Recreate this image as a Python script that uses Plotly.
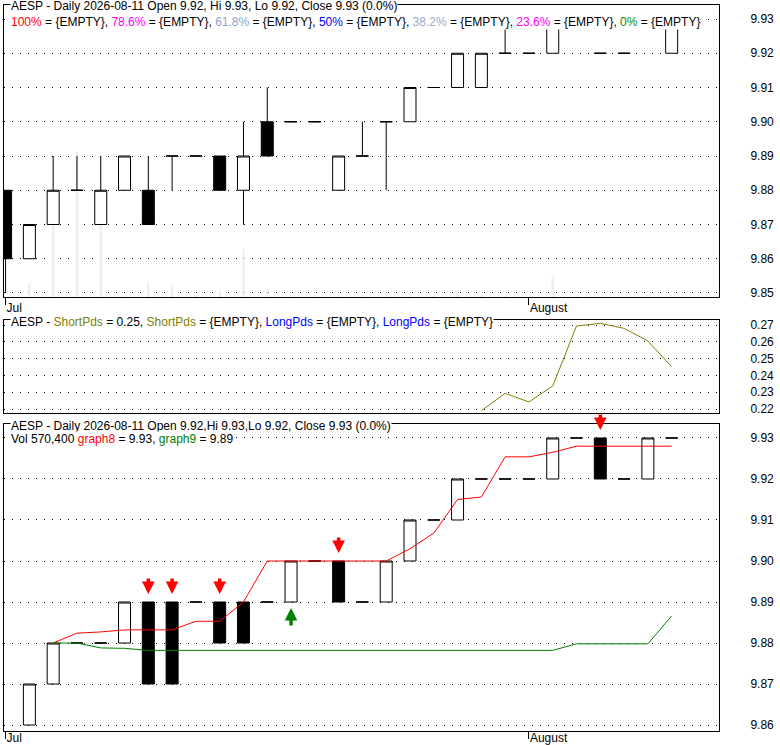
import plotly.graph_objects as go

# trading days shown on the chart
dates = ["2026-07-01", "2026-07-02", "2026-07-06", "2026-07-07", "2026-07-08",
         "2026-07-09", "2026-07-10", "2026-07-13", "2026-07-14", "2026-07-15",
         "2026-07-16", "2026-07-17", "2026-07-20", "2026-07-21", "2026-07-22",
         "2026-07-23", "2026-07-24", "2026-07-27", "2026-07-28", "2026-07-29",
         "2026-07-30", "2026-07-31", "2026-08-03", "2026-08-04", "2026-08-05",
         "2026-08-06", "2026-08-07", "2026-08-10", "2026-08-11"]
month_ticks = ["2026-07-01", "2026-08-03"]
month_labels = ["Jul", "August"]

# top panel: price candles + volume
top_open = [9.88, 9.86, 9.87, 9.88, 9.87, 9.88, 9.88, 9.89, 9.89, 9.89,
            9.88, 9.90, 9.90, 9.90, 9.88, 9.89, 9.90, 9.90, 9.91, 9.91,
            9.91, 9.92, 9.92, 9.92, 9.93, 9.92, 9.92, 9.93, 9.92]
top_high = [9.88, 9.87, 9.89, 9.89, 9.89, 9.89, 9.89, 9.89, 9.89, 9.89,
            9.90, 9.91, 9.90, 9.90, 9.89, 9.90, 9.90, 9.91, 9.91, 9.92,
            9.92, 9.93, 9.92, 9.93, 9.93, 9.92, 9.92, 9.93, 9.93]
top_low = [9.85, 9.86, 9.87, 9.88, 9.87, 9.88, 9.87, 9.88, 9.89, 9.88,
           9.87, 9.89, 9.90, 9.90, 9.88, 9.89, 9.88, 9.90, 9.91, 9.91,
           9.91, 9.92, 9.92, 9.92, 9.93, 9.92, 9.92, 9.93, 9.92]
top_close = [9.86, 9.87, 9.88, 9.88, 9.88, 9.89, 9.87, 9.89, 9.89, 9.88,
             9.89, 9.89, 9.90, 9.90, 9.89, 9.89, 9.90, 9.91, 9.91, 9.92,
             9.92, 9.92, 9.92, 9.93, 9.93, 9.92, 9.92, 9.93, 9.93]
volume = [300000, 4200000, 28500000, 43500000, 27000000, 450000, 4200000,
          3600000, 600000, 1500000, 14400000, 2400000, 600000, 600000,
          300000, 350000, 1800000, 1200000, 300000, 2100000, 400000,
          300000, 150000, 6300000, 350000, 300000, 300000, 400000, 570400]

# middle panel indicator
short_pds = [None] * 20 + [0.219, 0.2293, 0.2242, 0.2337, 0.2694,
                           0.2710, 0.2680, 0.2605, 0.2452]

# bottom panel: candles, two lines, signals
bot_open = [None, 9.86, 9.87, 9.88, 9.88, 9.88, 9.89, 9.89, 9.89, 9.89,
            9.89, 9.89, 9.89, 9.90, 9.90, 9.89, 9.89, 9.90, 9.91, 9.91,
            9.92, 9.92, 9.92, 9.92, 9.93, 9.93, 9.92, 9.92, 9.93]
bot_close = [None, 9.87, 9.88, 9.88, 9.88, 9.89, 9.87, 9.87, 9.89, 9.88,
             9.88, 9.89, 9.90, 9.90, 9.89, 9.89, 9.90, 9.91, 9.91, 9.92,
             9.92, 9.92, 9.92, 9.93, 9.93, 9.92, 9.92, 9.93, 9.93]
graph8 = [None, None, 9.880, 9.8824, 9.8827, 9.8832, 9.8832, 9.8832, 9.8853,
          9.8853, 9.890, 9.900, 9.900, 9.900, 9.900, 9.900, 9.900, 9.903,
          9.9068, 9.915, 9.9156, 9.9254, 9.9254, 9.9265, 9.928, 9.928,
          9.928, 9.928, 9.928]
graph9 = [None, None, 9.880, 9.880, 9.8788, 9.8787, 9.8782, 9.8782, 9.8782,
          9.8782, 9.8782, 9.8782, 9.8782, 9.8782, 9.8782, 9.8782, 9.8782,
          9.8782, 9.8782, 9.8782, 9.8782, 9.8782, 9.8782, 9.8782, 9.8798,
          9.8798, 9.8798, 9.8798, 9.8866]
sell_idx = [6, 7, 9, 14, 25]
buy_idx = [12]

bot_high = [None if o is None else max(o, c) for o, c in zip(bot_open, bot_close)]
bot_low = [None if o is None else min(o, c) for o, c in zip(bot_open, bot_close)]

W, H = 780, 745
FONT = "Liberation Sans, Arial, sans-serif"
GRID = dict(showgrid=True, gridcolor="black", gridwidth=1, griddash="1px,7px")
FRAME = dict(showline=True, mirror=True, linecolor="black", linewidth=1,
             automargin=False)

def px_y(p):
    return (H - p) / H

candle_style = dict(
    increasing=dict(line=dict(color="black", width=1), fillcolor="white"),
    decreasing=dict(line=dict(color="black", width=1), fillcolor="black"),
    hoverinfo="skip",
)

fig = go.Figure()
fig.add_trace(go.Bar(x=dates, y=volume, width=0.1, marker_color="#eeeeee",
                     marker_line_width=0, xaxis="x", yaxis="y"))
fig.add_trace(go.Candlestick(x=dates, open=top_open, high=top_high,
                             low=top_low, close=top_close,
                             xaxis="x", yaxis="y2", **candle_style))
fig.add_trace(go.Scatter(x=dates, y=short_pds, mode="lines",
                         line=dict(color="#808000", width=1),
                         xaxis="x2", yaxis="y3"))
fig.add_trace(go.Scatter(x=dates, y=graph8, mode="lines",
                         line=dict(color="#ff0000", width=1),
                         xaxis="x3", yaxis="y4"))
fig.add_trace(go.Scatter(x=dates, y=graph9, mode="lines",
                         line=dict(color="#008000", width=1),
                         xaxis="x3", yaxis="y4"))
fig.add_trace(go.Candlestick(x=dates, open=bot_open, high=bot_high,
                             low=bot_low, close=bot_close,
                             xaxis="x3", yaxis="y4", **candle_style))

xdom = [4 / W, 719 / W]
xcommon = dict(domain=xdom, type="category", categoryorder="array",
               categoryarray=dates, range=[-0.067, 29.99], showgrid=False,
               rangeslider=dict(visible=False), **FRAME)
xticks = dict(tickmode="array", tickvals=month_ticks, ticktext=month_labels,
              ticks="outside", ticklen=7, tickcolor="black",
              ticklabelposition="outside right")
ycommon = dict(side="right", ticks="", ticklabelstandoff=28,
               tickformat=".2f", **GRID, **FRAME)

fig.update_layout(
    width=W, height=H, margin=dict(l=0, r=0, t=0, b=0, autoexpand=False),
    paper_bgcolor="white", plot_bgcolor="white", showlegend=False,
    boxgap=0.28, font=dict(family=FONT, size=12, color="black"),
    xaxis=dict(anchor="y", ticklabelstandoff=0, **xcommon, **xticks),
    yaxis=dict(domain=[px_y(297), px_y(5)], range=[0, 87.6e6], visible=False),
    yaxis2=dict(overlaying="y", anchor="x", range=[9.84883, 9.93409],
                tickvals=[9.85, 9.86, 9.87, 9.88, 9.89, 9.90, 9.91, 9.92, 9.93],
                **ycommon),
    xaxis2=dict(anchor="y3", matches="x", showticklabels=False, ticks="",
                **xcommon),
    yaxis3=dict(domain=[px_y(413), px_y(320)], anchor="x2",
                range=[0.21762, 0.27298],
                tickvals=[0.22, 0.23, 0.24, 0.25, 0.26, 0.27], **ycommon),
    xaxis3=dict(anchor="y4", matches="x", ticklabelstandoff=-4,
                **xcommon, **xticks),
    yaxis4=dict(domain=[px_y(731), px_y(424)], anchor="x3",
                range=[9.85854, 9.93341],
                tickvals=[9.86, 9.87, 9.88, 9.89, 9.90, 9.91, 9.92, 9.93],
                **ycommon),
)

def span(txt, color):
    return f"<span style='color:{color}'>{txt}</span>"

fib = [("100%", "#ff0000"), ("78.6%", "#ff00ff"), ("61.8%", "#8ea4d2"),
       ("50%", "#0000ff"), ("38.2%", "#a0aac8"), ("23.6%", "#ff00ff"),
       ("0%", "#009000")]
top_title = (f"AESP - Daily {dates[-1]} Open {top_open[-1]:.2f}, Hi {top_high[-1]:.2f}, "
             f"Lo {top_low[-1]:.2f}, Close {top_close[-1]:.2f} (0.0%)")
fib_line = ", ".join(f"{span(k, c)} = {{EMPTY}}" for k, c in fib)
mid_title = (f"AESP - {span('ShortPds', '#808000')} = {short_pds[-1]:.2f}, "
             f"{span('ShortPds', '#808000')} = {{EMPTY}}, "
             f"{span('LongPds', '#0000ff')} = {{EMPTY}}, "
             f"{span('LongPds', '#0000ff')} = {{EMPTY}}")
bot_title = "AESP - Daily 2026-08-11 Open 9.92,Hi 9.93,Lo 9.92, Close 9.93 (0.0%)"
vol_line = (f"Vol {volume[-1]:,} {span('graph8', '#ff0000')} = {graph8[-1]:.2f}, "
            f"{span('graph9', '#008000')} = {graph9[-1]:.2f}")

for txt, ypx in [(top_title, 6.5), (fib_line, 21.5), (mid_title, 321.5),
                 (bot_title, 425.5), (vol_line, 439)]:
    fig.add_annotation(text=txt, xref="paper", yref="paper", x=10 / W,
                       y=px_y(ypx), xanchor="left", yanchor="middle",
                       showarrow=False, bgcolor="white", borderpad=0,
                       font=dict(family=FONT, size=12, color="black"))

arrow = dict(xref="x3", yref="y4", text="", showarrow=True, ax=0,
             arrowhead=2, arrowsize=0.72, arrowwidth=3.5, font=dict(size=1))
for i in sell_idx:
    fig.add_annotation(x=dates[i], y=bot_high[i], ay=-25, standoff=8,
                       arrowcolor="#ff0000", **arrow)
for i in buy_idx:
    fig.add_annotation(x=dates[i], y=bot_low[i], ay=25, standoff=6,
                       arrowcolor="#008000", **arrow)

fig.write_html("out.html", config={"displayModeBar": False},
               post_script="document.body.style.margin='0';")
